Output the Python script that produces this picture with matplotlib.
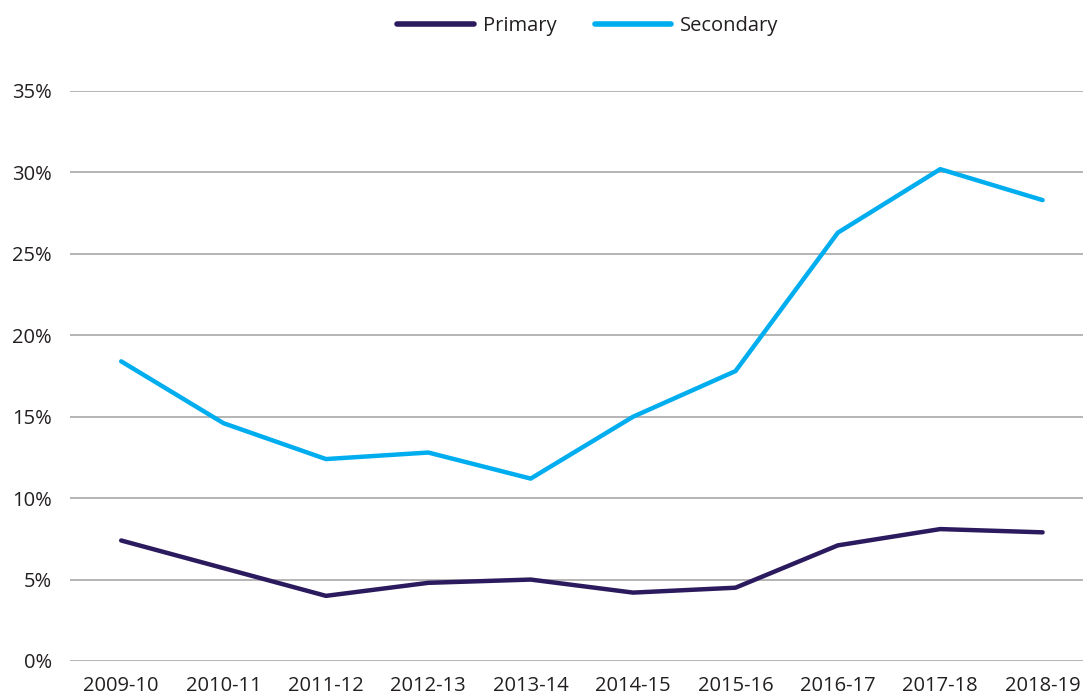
import matplotlib
matplotlib.use("Agg")
import matplotlib.pyplot as plt
from matplotlib.ticker import FuncFormatter

years = ["2009-10", "2010-11", "2011-12", "2012-13", "2013-14",
         "2014-15", "2015-16", "2016-17", "2017-18", "2018-19"]
primary = [7.4, 5.7, 4.0, 4.8, 5.0, 4.2, 4.5, 7.1, 8.1, 7.9]
secondary = [18.4, 14.6, 12.4, 12.8, 11.2, 15.0, 17.8, 26.3, 30.2, 28.3]
yticks = [0, 5, 10, 15, 20, 25, 30, 35]

plt.rcParams['font.family'] = ['Open Sans', 'DejaVu Sans']
text_color = '#231f20'

fig = plt.figure(figsize=(10.83, 6.99), dpi=100)
# axes from gridline start (x=70) to right edge, 0% at y=661, 35% at y=91
ax = fig.add_axes([70 / 1083, 38 / 699, 1 - 70 / 1083, 570 / 699])

x = list(range(len(years)))
ax.plot(x, primary, color='#2b1a5e', lw=3.2, label='Primary', solid_capstyle='round')
ax.plot(x, secondary, color='#00adee', lw=3.2, label='Secondary', solid_capstyle='round')

ax.set_ylim(0, 35)
ax.set_xlim(-0.5, (1083 - 121) / 102.4)
ax.set_yticks(yticks)
ax.yaxis.set_major_formatter(FuncFormatter(lambda v, p: f"{v:.0f}%"))
ax.set_xticks(x)
ax.set_xticklabels(years)
ax.grid(axis='y', color='#a0a0a2', lw=1.1)
ax.set_axisbelow(True)
for s in ax.spines.values():
    s.set_visible(False)
ax.tick_params(length=0, labelsize=14.5, colors=text_color)
ax.tick_params(axis='y', pad=13)
ax.tick_params(axis='x', pad=11)

leg = fig.legend(loc='center', bbox_to_anchor=(588 / 1083, 1 - 26 / 699), ncol=2,
                 frameon=False, fontsize=14.5, handlelength=3.8, columnspacing=1.9,
                 handletextpad=0.45)
for line in leg.get_lines():
    line.set_linewidth(4)
for t in leg.get_texts():
    t.set_color(text_color)

fig.savefig("out.png", dpi=100)
